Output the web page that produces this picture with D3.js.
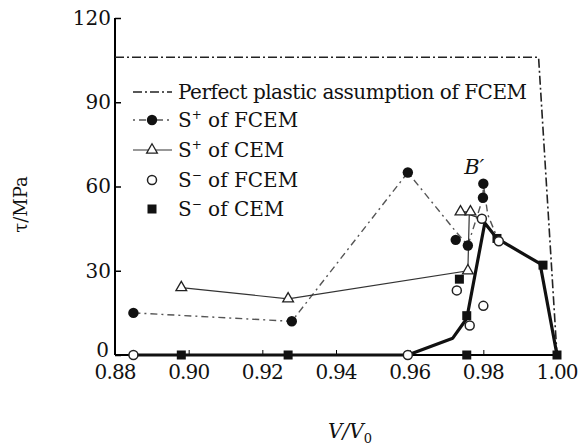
<!DOCTYPE html>
<html>
<head>
<meta charset="utf-8">
<script src="https://cdn.jsdelivr.net/npm/d3@7"></script>
<style>
  body { margin: 0; background: #fff; }
  svg text { font-family: "DejaVu Serif", serif !important; fill: #111; }
</style>
</head>
<body>
<div class="chart"></div>
<script>
var svgWidth = 580;
var svgHeight = 446;
var margin = { top: 18, right: 23, bottom: 91, left: 115 };
var width = svgWidth - margin.left - margin.right;
var height = svgHeight - margin.top - margin.bottom;

// data: [V/V0, tau MPa]
var xTicks = [0.88, 0.90, 0.92, 0.94, 0.96, 0.98, 1.00];
var yTicks = [0, 30, 60, 90, 120];
var plastic = [[0.88, 106], [0.995, 106], [1.0, 0]];
var sPlusFcem = [[0.885, 15], [0.928, 12], [0.9595, 65], [0.9725, 41], [0.9758, 39], [0.9799, 56], [0.98, 61]];
var sPlusFcemLine = [[0.885, 15], [0.928, 12], [0.9595, 65], [0.9725, 44], [0.9758, 39], [0.9799, 56], [0.98, 61], [0.9812, 50], [0.9837, 42]];
var sPlusCem = [[0.898, 24], [0.927, 20], [0.9758, 30], [0.9738, 51], [0.9765, 51]];
var sPlusCemLine = [[0.898, 24], [0.927, 20], [0.9758, 30], [0.9762, 51], [0.9738, 51], [0.9785, 49], [0.9837, 42]];
var sMinusFcem = [[0.885, 0], [0.9595, 0], [0.9728, 23], [0.98, 17.5], [0.9763, 10.5], [0.9796, 48.5], [0.9842, 40.5]];
var sMinusCem = [[0.898, 0], [0.927, 0], [0.9755, 0], [1.0, 0], [0.9735, 27], [0.9755, 14], [0.9837, 41.5], [0.9962, 32]];
var envelope = [[0.885, 0], [0.9595, 0], [0.9717, 6], [0.9755, 13], [0.9804, 47], [0.9837, 41.5], [0.9954, 32.5], [1.0, 0]];

var svg = d3.select(".chart")
  .append("svg")
  .attr("width", svgWidth)
  .attr("height", svgHeight)
  .append("g")
  .attr("transform", "translate(" + margin.left + "," + margin.top + ")");

var x = d3.scaleLinear().domain([0.88, 1.0]).range([0, width]);
var y = d3.scaleLinear().domain([0, 120]).range([height, 0]);

var line = d3.line()
  .x(function(d) { return x(d[0]); })
  .y(function(d) { return y(d[1]); });

// axes, ticks inside
var bottomAxis = d3.axisBottom(x).tickValues(xTicks).tickSize(-5).tickFormat(d3.format(".2f"));
var leftAxis = d3.axisLeft(y).tickValues(yTicks).tickSize(-6);

var gx = svg.append("g")
  .attr("transform", "translate(0," + height + ")")
  .call(bottomAxis);
gx.select(".domain").attr("d", "M0,0H" + width).attr("stroke-width", 2);
gx.selectAll("text").attr("dy", "1.05em").style("font-size", "20px").attr("textLength", 42);

var gy = svg.append("g").call(leftAxis);
gy.select(".domain").attr("d", "M0," + height + "V0").attr("stroke-width", 2);
gy.selectAll("line").attr("stroke-width", 1.5);
gy.selectAll("text").attr("x", -4).style("font-size", "20px");
gy.selectAll(".tick").filter(function(d) { return d === 0; }).select("text").attr("x", -6).attr("dy", "0.05em");

// lines
svg.append("path").datum(plastic)
  .attr("d", line).attr("fill", "none").attr("stroke", "#222")
  .attr("stroke-width", 1.6).attr("stroke-dasharray", "9,3,2,3");

svg.append("path").datum(sPlusFcemLine)
  .attr("d", line).attr("fill", "none").attr("stroke", "#555")
  .attr("stroke-width", 1.4).attr("stroke-dasharray", "7,4,2,4");

svg.append("path").datum(sPlusCemLine)
  .attr("d", line).attr("fill", "none").attr("stroke", "#333")
  .attr("stroke-width", 1.2);

svg.append("path").datum(envelope)
  .attr("d", line).attr("fill", "none").attr("stroke", "#111")
  .attr("stroke-width", 3.2).attr("stroke-linejoin", "round");

// markers
var tri = d3.symbol().type(d3.symbolTriangle).size(50);

svg.selectAll(".sqr").data(sMinusCem).enter().append("rect")
  .attr("x", function(d) { return x(d[0]) - 4.5; })
  .attr("y", function(d) { return y(d[1]) - 4.5; })
  .attr("width", 9).attr("height", 9).attr("fill", "#111");

svg.selectAll(".tri").data(sPlusCem).enter().append("path")
  .attr("d", tri)
  .attr("transform", function(d) { return "translate(" + x(d[0]) + "," + y(d[1]) + ")"; })
  .attr("fill", "#fff").attr("stroke", "#222").attr("stroke-width", 1.3);

svg.selectAll(".oc").data(sMinusFcem).enter().append("circle")
  .attr("cx", function(d) { return x(d[0]); })
  .attr("cy", function(d) { return y(d[1]); })
  .attr("r", 4.5).attr("fill", "#fff").attr("stroke", "#222").attr("stroke-width", 1.5);

svg.selectAll(".fc").data(sPlusFcem).enter().append("circle")
  .attr("cx", function(d) { return x(d[0]); })
  .attr("cy", function(d) { return y(d[1]); })
  .attr("r", 5.2).attr("fill", "#111");

// B' label
svg.append("text")
  .attr("x", x(0.9748)).attr("y", y(64.5))
  .style("font-size", "21px").style("font-style", "italic")
  .text("B\u2032");

// legend
var legend = svg.append("g").attr("transform", "translate(18,0)");
var rows = [92, 120, 150, 180, 209];

function legText(i, main, sup, rest) {
  var t = legend.append("text")
    .attr("x", 45).attr("y", rows[i] - margin.top + 7)
    .style("font-size", "20px");
  t.append("tspan").text(main);
  if (sup) {
    t.append("tspan").attr("dy", -8).style("font-size", "12px").text(sup);
    t.append("tspan").attr("dy", 8).text(rest);
  }
  return t;
}

legend.append("line").attr("x1", 0).attr("x2", 39)
  .attr("y1", rows[0] - margin.top).attr("y2", rows[0] - margin.top)
  .attr("stroke", "#222").attr("stroke-width", 1.6).attr("stroke-dasharray", "9,3,2,3");
legText(0, "Perfect plastic assumption of FCEM").attr("textLength", 349);

legend.append("line").attr("x1", 0).attr("x2", 39)
  .attr("y1", rows[1] - margin.top).attr("y2", rows[1] - margin.top)
  .attr("stroke", "#555").attr("stroke-width", 1.4).attr("stroke-dasharray", "2,4,7,4");
legend.append("circle").attr("cx", 19).attr("cy", rows[1] - margin.top).attr("r", 5.2).attr("fill", "#111");
legText(1, "S", "+", " of FCEM");

legend.append("line").attr("x1", 0).attr("x2", 39)
  .attr("y1", rows[2] - margin.top).attr("y2", rows[2] - margin.top)
  .attr("stroke", "#333").attr("stroke-width", 1.2);
legend.append("path").attr("d", tri)
  .attr("transform", "translate(19," + (rows[2] - margin.top) + ")")
  .attr("fill", "#fff").attr("stroke", "#222").attr("stroke-width", 1.3);
legText(2, "S", "+", " of CEM");

legend.append("circle").attr("cx", 19).attr("cy", rows[3] - margin.top).attr("r", 4.5)
  .attr("fill", "#fff").attr("stroke", "#222").attr("stroke-width", 1.5);
legText(3, "S", "\u2212", " of FCEM");

legend.append("rect").attr("x", 14.5).attr("y", rows[4] - margin.top - 4.5)
  .attr("width", 9).attr("height", 9).attr("fill", "#111");
legText(4, "S", "\u2212", " of CEM");

// axis titles
svg.append("text")
  .attr("transform", "rotate(-90)")
  .attr("x", -(y(60) + 18)).attr("y", 20 - margin.left + 7)
  .attr("text-anchor", "middle")
  .style("font-size", "18px")
  .text("\u03c4/MPa");

var xt = svg.append("text")
  .attr("x", 350 - margin.left).attr("y", 438 - margin.top)
  .attr("text-anchor", "middle")
  .style("font-size", "20px").style("font-style", "italic");
xt.append("tspan").text("V/V");
xt.append("tspan").attr("dy", 5).style("font-size", "13px").style("font-style", "normal").text("0");
</script>
</body>
</html>
